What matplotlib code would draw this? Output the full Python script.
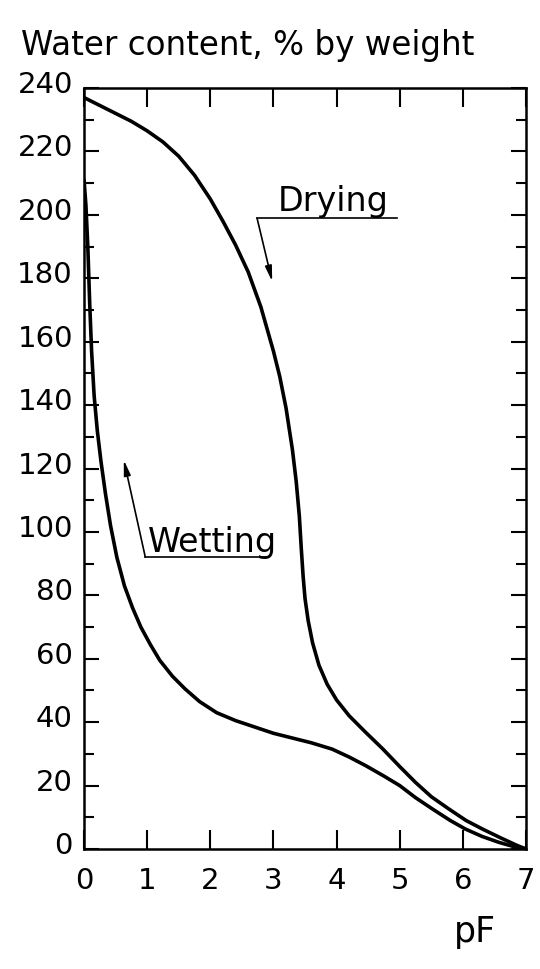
import matplotlib
matplotlib.use("Agg")
import matplotlib.pyplot as plt
import matplotlib.transforms as mtransforms

# pF vs water content (% by weight)
pf_drying = [0.0, 0.25, 0.5, 0.75, 1.0, 1.25, 1.5, 1.75, 2.0, 2.2, 2.4, 2.6, 2.8, 3.0,
             3.1, 3.2, 3.3, 3.36, 3.41, 3.44, 3.47, 3.5, 3.55, 3.62, 3.72, 3.85, 4.0,
             4.2, 4.45, 4.73, 5.0, 5.25, 5.5, 5.78, 6.05, 6.31, 6.6, 6.85, 7.0]
w_drying = [237, 234.5, 232, 229.5, 226.5, 223, 218.5, 212.5, 205, 198, 190.5, 182, 171, 157,
            149, 139, 126, 116, 105, 95, 86, 79, 72, 65, 58, 52, 47,
            42, 37, 31.6, 26, 21, 16.5, 12.6, 9, 6.3, 3.5, 1.2, 0]

pf_wetting = [0.0, 0.03, 0.06, 0.09, 0.12, 0.16, 0.21, 0.27, 0.34, 0.42, 0.52, 0.64, 0.77,
              0.9, 1.05, 1.2, 1.4, 1.6, 1.83, 2.1, 2.4, 2.7, 3.0, 3.3, 3.6, 3.93, 4.2,
              4.46, 4.75, 5.0, 5.25, 5.52, 5.8, 6.04, 6.3, 6.57, 6.8, 7.0]
w_wetting = [211, 203, 190, 172, 157, 143, 132, 122, 112, 102, 92, 83, 76,
             70, 64.5, 59.5, 54.5, 50.5, 46.5, 43, 40.5, 38.5, 36.5, 35, 33.5, 31.5, 29,
             26.3, 23, 20, 16.2, 12.6, 9, 6.3, 4, 2.1, 0.8, 0]

x_ticks = [0, 1, 2, 3, 4, 5, 6, 7]
x_labels = ["0", "1", "2", "3", "4", "5", "6", "7"]
y_ticks = list(range(0, 241, 20))

fig = plt.figure(figsize=(5.4, 9.7), dpi=100)
ax = fig.add_axes([0.1556, 0.1237, 0.8185, 0.7845])

ax.plot(pf_drying, w_drying, color="black", lw=2.6, solid_joinstyle="round", solid_capstyle="round")
ax.plot(pf_wetting, w_wetting, color="black", lw=2.6, solid_joinstyle="round", solid_capstyle="round")

ax.set_xlim(0, 7)
ax.set_ylim(0, 240)
ax.set_xticks(x_ticks)
ax.set_xticklabels(x_labels)
ax.set_yticks(y_ticks)
ax.set_yticks(range(10, 240, 20), minor=True)

ax.tick_params(axis="x", which="major", direction="in", length=14, width=1.5,
               top=True, labelsize=21, pad=12)
ax.tick_params(axis="y", which="major", direction="in", length=11, width=1.5,
               right=True, labelsize=21, pad=8)
ax.tick_params(axis="y", which="minor", direction="in", length=7, width=1.5, right=True)
for s in ax.spines.values():
    s.set_linewidth(1.8)

# y labels sit a little above their ticks
off = mtransforms.ScaledTranslation(0, 7 / 100, fig.dpi_scale_trans)
for lbl in ax.get_yticklabels():
    lbl.set_transform(lbl.get_transform() + off)

# Drying label + arrow
ax.plot([2.74, 4.96], [199, 199], color="black", lw=1.2)
ax.text(3.07, 201.5, "Drying", fontsize=24, va="baseline", ha="left")
ax.annotate("", xy=(2.98, 179), xytext=(2.74, 199),
            arrowprops=dict(arrowstyle="-|>,head_length=0.9,head_width=0.2",
                            color="black", lw=1.2, shrinkA=0, shrinkB=0))

# Wetting label + arrow
ax.plot([0.97, 2.9], [92.1, 92.1], color="black", lw=1.2)
ax.text(1.01, 94, "Wetting", fontsize=24, va="baseline", ha="left")
ax.annotate("", xy=(0.63, 122.7), xytext=(0.97, 92.1),
            arrowprops=dict(arrowstyle="-|>,head_length=0.9,head_width=0.2",
                            color="black", lw=1.2, shrinkA=0, shrinkB=0))

fig.text(21 / 540, 1 - 55 / 970, "Water content, % by weight", fontsize=23.5,
         va="baseline", ha="left")
fig.text(475 / 540, 1 - 942 / 970, "pF", fontsize=25, va="baseline", ha="center")

fig.savefig("out.png", dpi=100)
